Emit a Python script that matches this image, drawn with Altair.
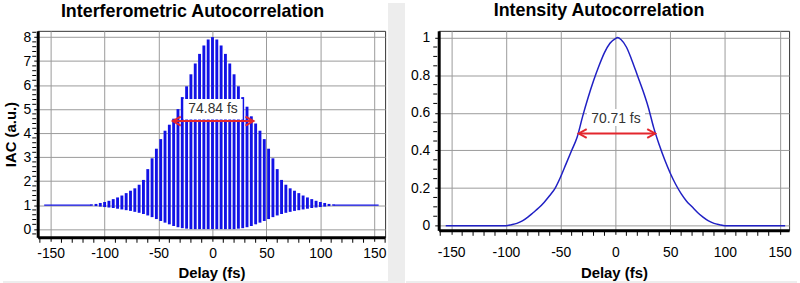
import altair as alt
import pandas as pd

# ---------------- data ----------------
iac_delay = [-112, -108, -104, -100, -96, -92, -88, -84, -80, -76, -72, -68, -64, -60,
             -56, -52, -48, -44, -40, -36, -32, -28, -24, -20, -16, -12, -8, -4,
             0,
             4, 8, 12, 16, 20, 24, 28, 32, 36, 40, 44, 48, 52, 56,
             60, 64, 68, 72, 76, 80, 84, 88, 92, 96, 100, 104, 108, 112]
iac_upper = [1.03, 1.05, 1.09, 1.13, 1.18, 1.25, 1.32, 1.4, 1.5, 1.6, 1.7, 1.85, 2.05, 2.5,
             2.95, 3.35, 3.75, 4.1, 4.35, 4.6, 5.0, 5.5, 5.95, 6.45, 6.9, 7.3, 7.65, 7.9,
             8.0,
             7.9, 7.65, 7.3, 6.9, 6.45, 5.95, 5.5, 5.1, 4.7, 4.4, 4.1, 3.75, 3.35, 2.95,
             2.5, 2.05, 1.85, 1.7, 1.6, 1.5, 1.4, 1.32, 1.25, 1.18, 1.13, 1.09, 1.05, 1.03]
iac_lower = [0.98, 0.96, 0.94, 0.92, 0.9, 0.88, 0.85, 0.82, 0.79, 0.76, 0.72, 0.68, 0.63, 0.57,
             0.5, 0.42, 0.34, 0.27, 0.2, 0.13, 0.08, 0.04, 0.02, 0.0, 0.0, 0.0, 0.0, 0.0,
             0.0,
             0.0, 0.0, 0.0, 0.0, 0.0, 0.02, 0.04, 0.08, 0.13, 0.2, 0.27, 0.34, 0.42, 0.5,
             0.57, 0.63, 0.68, 0.72, 0.76, 0.79, 0.82, 0.85, 0.88, 0.9, 0.92, 0.94, 0.96, 0.98]

tail_delay = [-156, -112, 112, 154]
tail_value = [1, 1, 1, 1]
tail_side = ["left", "left", "right", "right"]

ac_delay = [-155, -100, -95, -90, -85, -80, -75, -70, -65, -60, -55, -50, -45, -40, -35,
            -30, -25, -20, -15, -10, -5, 0, 2, 5, 10, 15, 20, 25, 30, 35, 40, 45, 50,
            55, 60, 65, 70, 75, 80, 85, 90, 95, 100, 155]
ac_value = [0, 0.0, 0.005, 0.012, 0.025, 0.045, 0.07, 0.095, 0.125, 0.16, 0.2, 0.26, 0.33,
            0.4, 0.47, 0.58, 0.68, 0.77, 0.85, 0.92, 0.97, 0.995, 1.0, 0.99, 0.95, 0.88,
            0.8, 0.72, 0.63, 0.52, 0.43, 0.35, 0.28, 0.22, 0.17, 0.13, 0.1, 0.07, 0.045,
            0.025, 0.012, 0.005, 0.0, 0]

left_fwhm_x = [-36.8, 38.0]
left_fwhm_level = 4.5
left_label = "74.84 fs"
left_label_pos = [0.5, 5.0]
left_box_x = [-27, 28]
left_box_y = [4.57, 5.42]

right_fwhm_x = [-33.5, 36.3]
right_fwhm_level = 0.49
right_label = "70.71 fs"
right_label_pos = [0.5, 0.567]
right_box_x = [-26, 27]
right_box_y = [0.53, 0.62]

# tick labels (major) and minor tick positions
x_major = [-150, -100, -50, 0, 50, 100, 150]
x_minor_left = [-160, -140, -130, -120, -110, -90, -80, -70, -60, -40, -30, -20, -10,
                10, 20, 30, 40, 60, 70, 80, 90, 110, 120, 130, 140, 160]
x_minor_right = x_minor_left[:-1]
y_major_left = [0, 1, 2, 3, 4, 5, 6, 7, 8]
y_minor_left = [round(-0.2 + 0.2 * k, 2) for k in range(43) if k % 5 != 1]
y_major_right = [0, 0.2, 0.4, 0.6, 0.8, 1]
y_minor_right = [round(0.05 * k, 2) for k in range(21) if k % 4 != 0]

# ---------------- styles ----------------
FONT = "Liberation Sans"
BLUE = "#1212e6"
LINE_BLUE = "#2020c4"
RED = "#e3262d"
GRID = "#9a9a9a"
PANEL_GAP = "#ededed"
TICK = 4

iac_df = pd.DataFrame({"delay": iac_delay, "upper": iac_upper, "lower": iac_lower})
tail_df = pd.DataFrame({"delay": tail_delay, "value": tail_value, "side": tail_side})
ac_df = pd.DataFrame({"delay": ac_delay, "value": ac_value})


def x_axis(label_pad, title_pad):
    return alt.Axis(values=x_major, title="Delay (fs)", labelExpr="'' + datum.value",
                    labelPadding=label_pad, titlePadding=title_pad, labelOverlap=False)


def minor_ticks(xs, ys, ax, ay, h, xvals, yvals):
    xdf = pd.DataFrame({"v": xvals})
    ydf = pd.DataFrame({"v": yvals})
    xt = alt.Chart(xdf).mark_rule(color="black", strokeWidth=1).encode(
        x=alt.X("v:Q", scale=xs, axis=ax), y=alt.value(h + 1.5), y2=alt.value(h + 1.5 + TICK))
    yt = alt.Chart(ydf).mark_rule(color="black", strokeWidth=1).encode(
        y=alt.Y("v:Q", scale=ys, axis=ay), x=alt.value(-1.5), x2=alt.value(-1.5 - TICK))
    return [xt, yt]


def label_box(xs, ys, ax, ay, box_x, box_y):
    box_df = pd.DataFrame({"x1": [box_x[0]], "x2": [box_x[1]], "y1": [box_y[0]], "y2": [box_y[1]]})
    return alt.Chart(box_df).mark_rect(color="white").encode(
        x=alt.X("x1:Q", scale=xs, axis=ax), x2="x2:Q",
        y=alt.Y("y1:Q", scale=ys, axis=ay), y2="y2:Q")


def annotation(xs, ys, ax, ay, fwhm_x, level, label, label_pos):
    arr_df = pd.DataFrame({"x1": [fwhm_x[0]], "x2": [fwhm_x[1]], "y": [level]})
    lab_df = pd.DataFrame({"x": [label_pos[0]], "y": [label_pos[1]], "t": [label]})
    line = alt.Chart(arr_df).mark_rule(color=RED, strokeWidth=2).encode(
        x=alt.X("x1:Q", scale=xs, axis=ax), x2="x2:Q", y=alt.Y("y:Q", scale=ys, axis=ay))
    head_l = alt.Chart(arr_df).mark_point(
        shape="M1.6,-0.9L0,0L1.6,0.9", filled=False, color=RED, strokeWidth=2, size=100, opacity=1
    ).encode(x=alt.X("x1:Q", scale=xs, axis=ax), y=alt.Y("y:Q", scale=ys, axis=ay))
    head_r = alt.Chart(arr_df).mark_point(
        shape="M-1.6,-0.9L0,0L-1.6,0.9", filled=False, color=RED, strokeWidth=2, size=100, opacity=1
    ).encode(x=alt.X("x2:Q", scale=xs, axis=ax), y=alt.Y("y:Q", scale=ys, axis=ay))
    text = alt.Chart(lab_df).mark_text(font=FONT, fontSize=14, color="#333333").encode(
        x=alt.X("x:Q", scale=xs, axis=ax), y=alt.Y("y:Q", scale=ys, axis=ay), text="t:N")
    return [line, head_l, head_r, text]


# ---------------- left panel ----------------
WL, HL = 350, 208
xs_l = alt.Scale(domain=[-162, 160], nice=False, zero=False)
ys_l = alt.Scale(domain=[-0.34, 8.26], nice=False, zero=False)
ax_l = x_axis(5, 6)
ay_l = alt.Axis(values=y_major_left, title="IAC (a.u.)", labelExpr="'' + datum.value",
                labelPadding=3, titlePadding=5, labelOverlap=False)

strip = alt.Chart(iac_df).mark_rect(color=PANEL_GAP).encode(
    x=alt.value(WL + 3), x2=alt.value(WL + 20), y=alt.value(-28), y2=alt.value(HL + 47))
band_l = alt.Chart(iac_df).mark_rect(color=PANEL_GAP).encode(
    x=alt.value(-35), x2=alt.value(WL + 3), y=alt.value(HL + 44), y2=alt.value(HL + 47))

spikes = alt.Chart(iac_df).mark_rule(color=BLUE, strokeWidth=2.9).encode(
    x=alt.X("delay:Q", scale=xs_l, axis=ax_l),
    y=alt.Y("lower:Q", scale=ys_l, axis=ay_l),
    y2="upper:Q",
)
tails = alt.Chart(tail_df).mark_line(color=BLUE, strokeWidth=1.5).encode(
    x=alt.X("delay:Q", scale=xs_l, axis=ax_l), y=alt.Y("value:Q", scale=ys_l, axis=ay_l),
    detail="side:N")

left = alt.layer(
    strip, band_l, spikes, tails,
    *minor_ticks(xs_l, ys_l, ax_l, ay_l, HL, x_minor_left, y_minor_left),
    label_box(xs_l, ys_l, ax_l, ay_l, left_box_x, left_box_y),
    *annotation(xs_l, ys_l, ax_l, ay_l, left_fwhm_x, left_fwhm_level, left_label, left_label_pos)
).properties(
    width=WL, height=HL,
    title=alt.TitleParams("Interferometric Autocorrelation", font=FONT, fontSize=18,
                          fontWeight="bold", anchor="middle", color="black",
                          offset=-18, dx=-19),
)

# ---------------- right panel ----------------
WR, HR = 353, 201
xs_r = alt.Scale(domain=[-161.4, 158.6], nice=False, zero=False)
ys_r = alt.Scale(domain=[-0.025, 1.036], nice=False, zero=False)
ax_r = x_axis(11, 6.5)
ay_r = alt.Axis(values=y_major_right, title=None, labelExpr="'' + datum.value",
                labelPadding=5, labelOverlap=False)

band_r = alt.Chart(ac_df).mark_rect(color=PANEL_GAP).encode(
    x=alt.value(-32), x2=alt.value(WR + 8), y=alt.value(HR + 51), y2=alt.value(HR + 54))

curve = alt.Chart(ac_df).mark_line(color=LINE_BLUE, strokeWidth=1.5, interpolate="monotone").encode(
    x=alt.X("delay:Q", scale=xs_r, axis=ax_r),
    y=alt.Y("value:Q", scale=ys_r, axis=ay_r),
)

right = alt.layer(
    band_r,
    label_box(xs_r, ys_r, ax_r, ay_r, right_box_x, right_box_y),
    curve,
    *minor_ticks(xs_r, ys_r, ax_r, ay_r, HR, x_minor_right, y_minor_right),
    *annotation(xs_r, ys_r, ax_r, ay_r, right_fwhm_x, right_fwhm_level, right_label, right_label_pos)
).properties(
    width=WR, height=HR,
    title=alt.TitleParams("Intensity Autocorrelation", font=FONT, fontSize=18,
                          fontWeight="bold", anchor="middle", color="black",
                          offset=10.5, dx=-15),
)

chart = alt.hconcat(left, right, spacing=0).properties(
    padding={"left": 2, "top": 0, "right": 2, "bottom": 0},
    background="white",
).configure_view(
    stroke="#333333", strokeWidth=1,
).configure_axis(
    labelFont=FONT, titleFont=FONT, labelFontSize=14, titleFontSize=15,
    titleFontWeight="bold", labelColor="black", titleColor="black",
    gridColor=GRID, gridWidth=1, tickColor="black", tickSize=TICK, tickWidth=1,
    domainColor="black", domainWidth=3,
)

chart.save("out.html", embed_options={"renderer": "svg", "actions": False})
